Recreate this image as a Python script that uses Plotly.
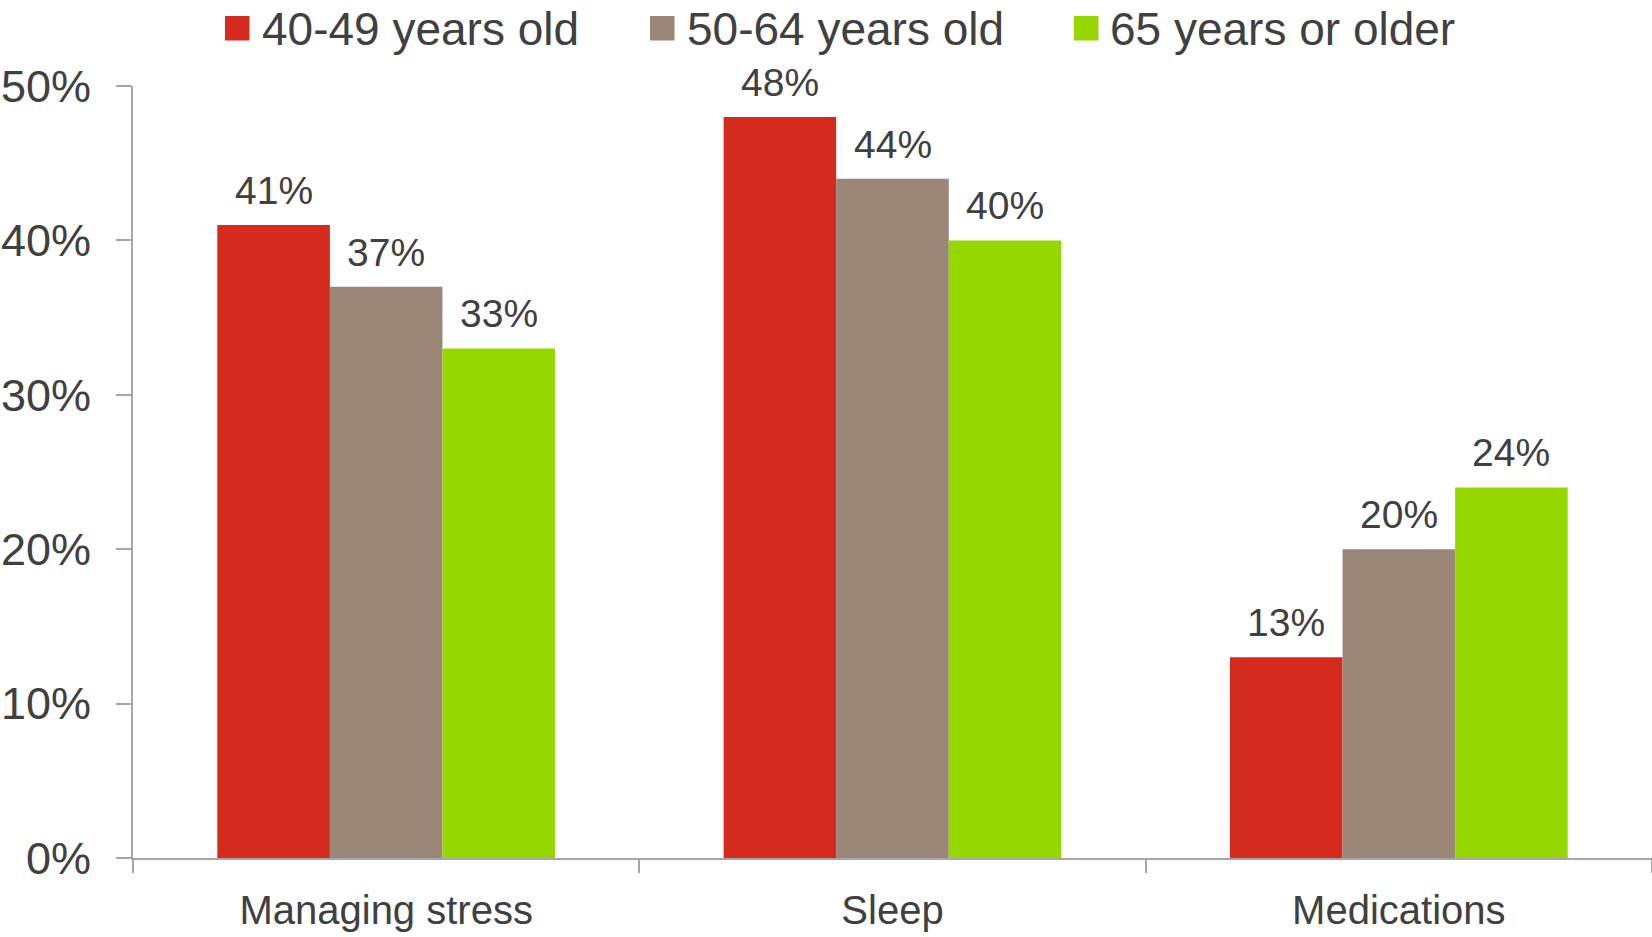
import plotly.graph_objects as go

# Share of respondents citing each concern, by age group
categories = ["Managing stress", "Sleep", "Medications"]
series_names = ["40-49 years old", "50-64 years old", "65 years or older"]
values_40_49 = [41, 48, 13]
values_50_64 = [37, 44, 20]
values_65_plus = [33, 40, 24]
series_values = [values_40_49, values_50_64, values_65_plus]
series_colors = ["#D52B1E", "#9C8677", "#97D700"]
y_ticks = [0, 10, 20, 30, 40, 50]
y_tick_labels = ["0%", "10%", "20%", "30%", "40%", "50%"]

FONT = "Liberation Sans, Arial, sans-serif"
TEXT = "#404040"
AXIS = "#A6A6A6"

W, H = 1652, 937
M_L, M_R, M_T, M_B = 133, 0, 86, 79
plot_w = W - M_L - M_R
plot_h = H - M_T - M_B
BARGAP = 0.333
n_series = len(series_names)
bar_px = plot_w / len(categories) * (1 - BARGAP) / n_series


def px_x(p):
    return (p - M_L) / plot_w


def px_y(p):
    return (H - M_B - p) / plot_h


fig = go.Figure()
for i, (name, vals, color) in enumerate(zip(series_names, series_values, series_colors)):
    fig.add_trace(go.Bar(
        x=categories, y=vals, name=name,
        marker=dict(color=color, line=dict(width=0)),
        showlegend=False,
    ))
    # value labels sitting above each bar
    for cat, v in zip(categories, vals):
        fig.add_annotation(
            x=cat, y=v, xref="x", yref="y", text=f"{v}%", showarrow=False,
            xanchor="center", yanchor="bottom",
            xshift=(i - (n_series - 1) / 2) * bar_px, yshift=11,
            font=dict(family=FONT, size=39, color=TEXT),
        )

# Legend: large square swatches with labels across the top
legend_square_x = [225, 650, 1074]
legend_text_x = [260, 685, 1108]
sq = 24.5
sq_top, sq_bot = 16, 40.5
for name, color, sx, tx in zip(series_names, series_colors, legend_square_x, legend_text_x):
    fig.add_shape(type="rect", xref="paper", yref="paper",
                  x0=px_x(sx), x1=px_x(sx + sq), y0=px_y(sq_bot), y1=px_y(sq_top),
                  fillcolor=color, line=dict(width=0))
    fig.add_annotation(xref="paper", yref="paper", x=px_x(tx), y=px_y(29),
                       text=name, showarrow=False, xanchor="left", yanchor="middle",
                       font=dict(family=FONT, size=46, color=TEXT))

fig.update_layout(
    width=W, height=H,
    margin=dict(l=M_L, r=M_R, t=M_T, b=M_B, pad=0),
    plot_bgcolor="white", paper_bgcolor="white",
    barmode="group", bargap=BARGAP, bargroupgap=0,
    font=dict(family=FONT, color=TEXT),
    showlegend=False,
)
fig.update_yaxes(
    range=[0, 50], tickvals=y_ticks, ticktext=y_tick_labels,
    showgrid=False, zeroline=False,
    showline=True, linecolor=AXIS, linewidth=2,
    ticks="outside", ticklen=15, tickwidth=2, tickcolor=AXIS,
    tickfont=dict(family=FONT, size=45, color=TEXT),
    ticklabelstandoff=16,
)
fig.update_xaxes(
    showgrid=False, zeroline=False,
    showline=True, linecolor=AXIS, linewidth=2,
    ticks="outside", tickson="boundaries", ticklen=13, tickwidth=2, tickcolor=AXIS,
    tickfont=dict(family=FONT, size=40, color=TEXT),
    ticklabelstandoff=16,
)

fig.write_html("out.html")
